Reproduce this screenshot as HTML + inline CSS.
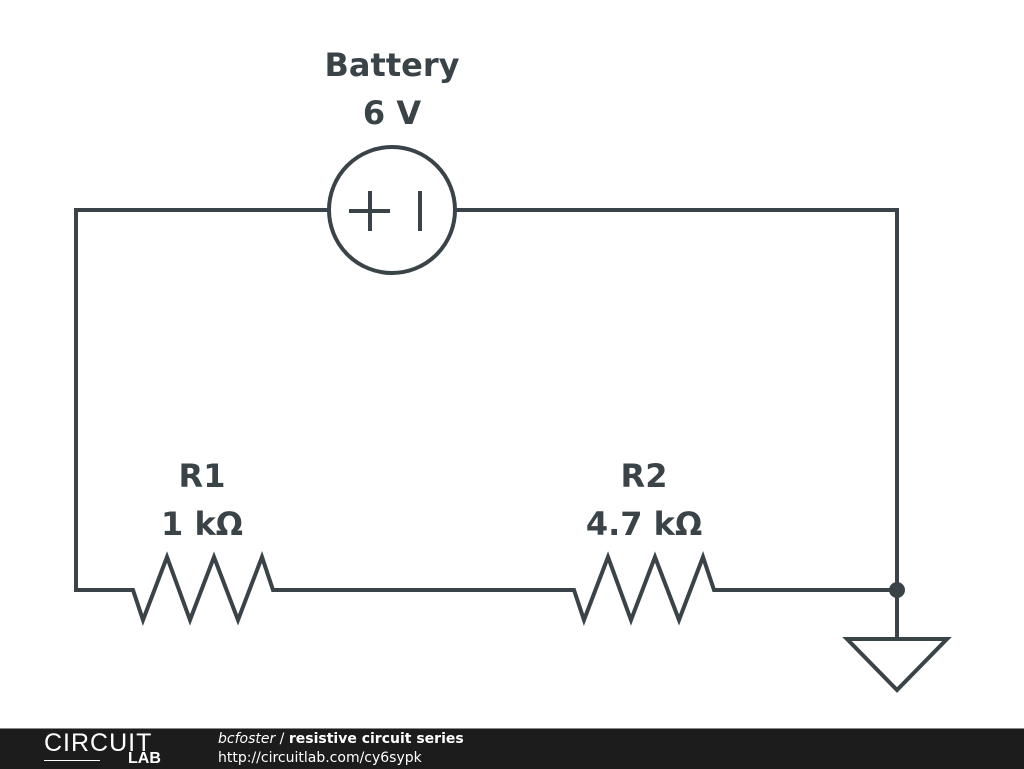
<!DOCTYPE html>
<html><head><style>
body{margin:0;width:1024px;height:768px;background:#fff;overflow:hidden;position:relative;font-family:"DejaVu Sans",sans-serif}
.t{position:absolute;font-weight:bold;color:#3a4347;font-size:32px;text-align:center;width:300px;line-height:40px}
#foot{position:absolute;left:0;top:728px;width:1024px;height:40px;background:#1c1c1c;border-top:1px solid #888}
</style></head><body>
<svg width="1024" height="768" style="position:absolute;left:0;top:0">
<g stroke="#3a4347" stroke-width="4" fill="none" stroke-linejoin="miter">
<path d="M328 210 H76 V590 H133 L143 620 L167 557 L190 620 L214 557 L238 620 L262 557 L273 590 H574 L584 620 L608 557 L631 620 L655 557 L679 620 L703 557 L714 590 H897 V210 H456"/>
<circle cx="392" cy="210" r="63"/>
<path d="M349 211 H390 M370 191 V231 M420 191 V231"/>
<path d="M897 590 V638 M847 639 H947 L897 690 Z"/>
</g>
<circle cx="897" cy="590" r="8" fill="#3a4347"/>
</svg>
<div class="t" style="left:242px;top:45px">Battery</div>
<div class="t" style="left:242px;top:93px">6 V</div>
<div class="t" style="left:52px;top:456px">R1</div>
<div class="t" style="left:52px;top:504px">1 kΩ</div>
<div class="t" style="left:494px;top:456px">R2</div>
<div class="t" style="left:494px;top:504px">4.7 kΩ</div>
<div id="foot">
<div style="position:absolute;left:44px;top:0px;color:#fff;font-size:25px;font-family:'Liberation Sans',sans-serif;letter-spacing:1px">CIRCUIT</div>
<div style="position:absolute;left:44px;top:31px;width:56px;height:1px;background:#fff"></div>
<div style="position:absolute;left:128px;top:21px;color:#fff;font-size:16px;font-weight:bold;font-family:'Liberation Sans',sans-serif">LAB</div>
<div style="position:absolute;left:218px;top:2px;color:#fff;font-size:14px"><i>bcfoster</i> / <b>resistive circuit series</b></div>
<div style="position:absolute;left:218px;top:21px;color:#fff;font-size:14px">http://circuitlab.com/cy6sypk</div>
</div>
</body></html>
